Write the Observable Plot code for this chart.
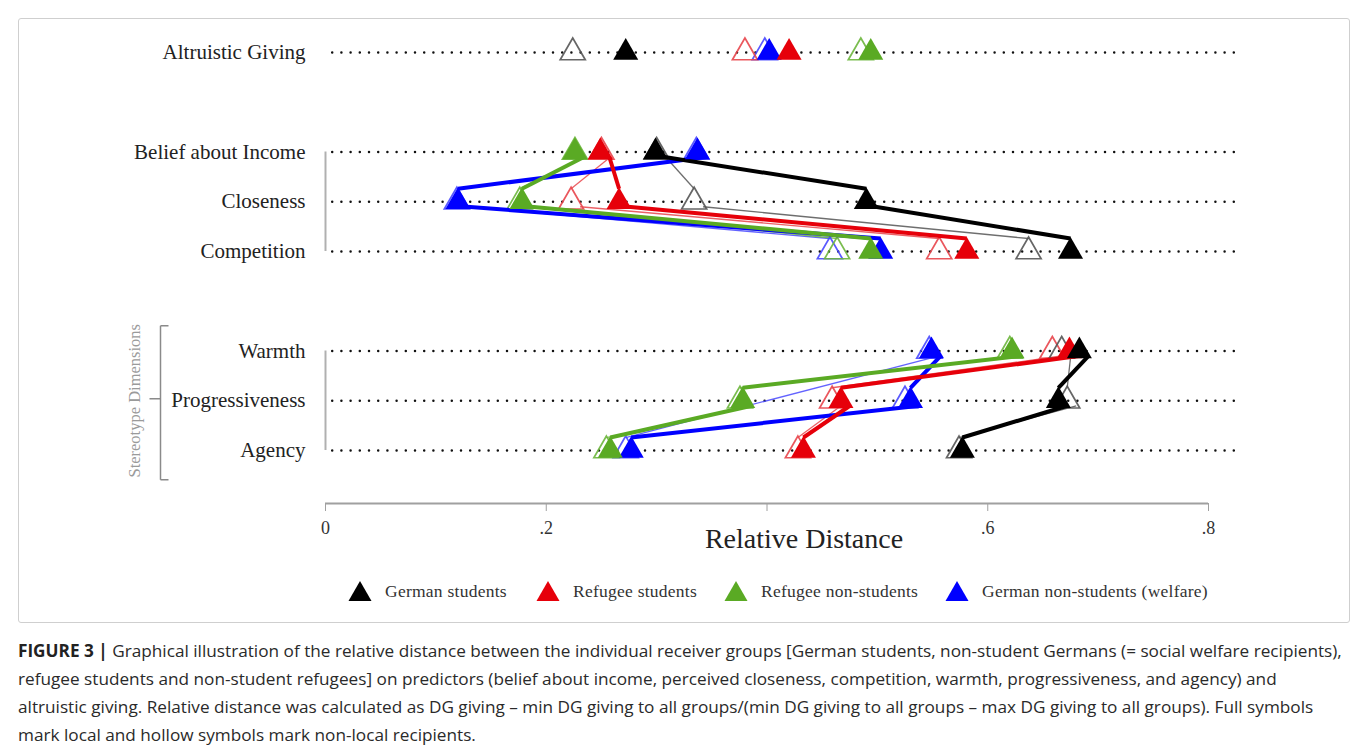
<!DOCTYPE html>
<html>
<head>
<meta charset="utf-8">
<script src="https://cdn.jsdelivr.net/npm/d3@7"></script>
<script src="https://cdn.jsdelivr.net/npm/@observablehq/plot@0.6"></script>
<style>
  body { margin: 0; background: #fff; width: 1358px; height: 750px; overflow: hidden; position: relative; }
  #box { position: absolute; left: 18px; top: 18px; width: 1330px; height: 603px; border: 1px solid #cfcfcf; border-radius: 3px; }
  #chart { position: absolute; left: 0; top: 0; }
  #legend { position: absolute; left: 0; top: 559px; width: 1330px; height: 26px; font-family: "Liberation Serif", serif; font-size: 17.5px; letter-spacing: 0.25px; color: #333; white-space: nowrap; }
  #legend .item { position: absolute; top: 0; height: 26px; display: flex; align-items: center; }
  #legend svg { margin-right: 13px; }
  #caption { position: absolute; left: 18px; top: 637px; width: 1340px; font-family: "Open Sans", "Liberation Sans", sans-serif; font-size: 17.2px; line-height: 28px; color: #2a2a2a; white-space: nowrap; }
  #caption b { color: #222; }
</style>
</head>
<body>
<div id="box">
  <div id="chart"></div>
  <div id="legend"></div>
</div>
<div id="caption"><b>FIGURE 3 |</b> Graphical illustration of the relative distance between the individual receiver groups [German students, non-student Germans (= social welfare recipients),<br>refugee students and non-student refugees] on predictors (belief about income, perceived closeness, competition, warmth, progressiveness, and agency) and<br>altruistic giving. Relative distance was calculated as DG giving – min DG giving to all groups/(min DG giving to all groups – max DG giving to all groups). Full symbols<br>mark local and hollow symbols mark non-local recipients.</div>
<script>
// ---------- data ----------
const groups = ["German students", "Refugee students", "Refugee non-students", "German non-students (welfare)"];
const solidColors = ["#000000", "#e6000a", "#5aaa24", "#0000ff"];
const hollowColors = ["#555555", "#e8454b", "#6cb63c", "#4848ff"];
const drawOrder = [3, 2, 1, 0];

const rows = ["Altruistic Giving", "Belief about Income", "Closeness", "Competition", "Warmth", "Progressiveness", "Agency"];
const rowPos = [0, 2, 3, 4, 6, 7, 8];
const blocks = [["Belief about Income", "Closeness", "Competition"], ["Warmth", "Progressiveness", "Agency"]];

// local recipients (full symbols), one value per row
const localGermanStudents      = [0.272, 0.299, 0.490, 0.675, 0.683, 0.664, 0.577];
const localRefugeeStudents     = [0.420, 0.249, 0.266, 0.581, 0.674, 0.467, 0.433];
const localRefugeeNonStudents  = [0.494, 0.226, 0.178, 0.494, 0.622, 0.378, 0.258];
const localGermanNonStudents   = [0.402, 0.337, 0.120, 0.503, 0.549, 0.530, 0.277];
// non-local recipients (hollow symbols)
const hollowGermanStudents     = [0.224, 0.300, 0.334, 0.637, 0.667, 0.672, 0.574];
const hollowRefugeeStudents    = [0.380, 0.250, 0.2225, 0.556, 0.6585, 0.459, 0.428];
const hollowRefugeeNonStudents = [0.485, 0.226, 0.176, 0.4635, 0.620, 0.3755, 0.2545];
const hollowGermanNonStudents  = [0.398, 0.336, 0.119, 0.457, 0.547, 0.525, 0.272];
// connector skipped for this hollow series row
const hollowLineSkip = [["German non-students (welfare)", "Progressiveness"]];

const xTicks = [0, 0.2, 0.4, 0.6, 0.8];
const xTickLabels = ["0", ".2", "", ".6", ".8"];
const axisTitle = "Relative Distance";
const groupTitle = "Stereotype Dimensions";

// ---------- layout settings ----------
const W = 1330, H = 560;
const mL = 306, mR = 141, mT = 33, mB = 76;
const xMax = 0.8, gridEnd = 0.826, axisRow = 9.065;
const pxPerUnit = (W - mL - mR) / xMax;
const pxPerRow = (H - mT - mB) / axisRow;
const px = v => v / pxPerUnit, pr = v => v / pxPerRow;

const localArrs = [localGermanStudents, localRefugeeStudents, localRefugeeNonStudents, localGermanNonStudents];
const hollowArrs = [hollowGermanStudents, hollowRefugeeStudents, hollowRefugeeNonStudents, hollowGermanNonStudents];

const rowTable = rows.map((r, i) => ({row: r, pos: rowPos[i]}));
const posOf = r => rowPos[rows.indexOf(r)];

const points = [];
for (const gi of drawOrder) {
  rows.forEach((r, ri) => {
    points.push({group: groups[gi], row: r, pos: rowPos[ri], type: "local", value: localArrs[gi][ri], color: solidColors[gi]});
    points.push({group: groups[gi], row: r, pos: rowPos[ri], type: "hollow", value: hollowArrs[gi][ri], color: hollowColors[gi]});
  });
}
const valueOf = (gi, type, r) => (type === "local" ? localArrs : hollowArrs)[gi][rows.indexOf(r)];

const links = [];
for (const block of blocks) {
  for (const gi of drawOrder) {
    for (const type of ["hollow", "local"]) {
      const rs = block.filter(r => !(type === "hollow" && hollowLineSkip.some(s => s[0] === groups[gi] && s[1] === r)));
      for (let k = 0; k < rs.length - 1; k++) {
        links.push({
          type, group: groups[gi],
          color: type === "local" ? solidColors[gi] : hollowColors[gi],
          x1: valueOf(gi, type, rs[k]) + px(9), y1: posOf(rs[k]) + pr(5),
          x2: valueOf(gi, type, rs[k + 1]), y2: posOf(rs[k + 1]) - pr(13)
        });
      }
    }
  }
}

const blockRules = blocks.map(b => ({y1: posOf(b[0]), y2: posOf(b[b.length - 1])}));
const pMid = posOf("Progressiveness");
const bx = px(-165);
const bracket = [
  {x1: bx, x2: bx, y1: pMid - pr(75), y2: pMid + pr(79)},
  {x1: bx, x2: bx + px(8), y1: pMid - pr(75), y2: pMid - pr(75)},
  {x1: bx, x2: bx + px(8), y1: pMid + pr(79), y2: pMid + pr(79)},
  {x1: bx - px(11), x2: bx, y1: pMid - pr(2), y2: pMid - pr(2)}
];

const chart = Plot.plot({
  width: W, height: H,
  marginLeft: mL, marginRight: mR, marginTop: mT, marginBottom: mB,
  style: {fontFamily: "'Liberation Serif', serif", background: "transparent", overflow: "visible"},
  x: {domain: [0, xMax], axis: null},
  y: {domain: [0, axisRow], range: [mT, H - mB], axis: null},
  color: {type: "identity"},
  marks: [
    Plot.ruleY(rowTable, {y: "pos", x1: 0, x2: gridEnd, stroke: "#111", strokeWidth: 2.5, strokeLinecap: "round", strokeDasharray: "0,9.2", strokeDashoffset: 2}),
    Plot.ruleX(blockRules, {x: 0, y1: "y1", y2: "y2", stroke: "#b0b0b0", strokeWidth: 2}),
    Plot.text(rowTable, {x: 0, y: "pos", text: "row", textAnchor: "end", dx: -20, fontSize: 21, fill: "#222", style: "letter-spacing:1.2px"}),
    Plot.link(bracket, {x1: "x1", x2: "x2", y1: "y1", y2: "y2", stroke: "#8a8a8a", strokeWidth: 1.5}),
    Plot.text([groupTitle], {x: 0, y: pMid, dx: -191, rotate: -90, fontSize: 16.5, fill: "#9a9a9a"}),
    Plot.link(links.filter(d => d.type === "hollow"), {x1: "x1", y1: "y1", x2: "x2", y2: "y2", stroke: "color", strokeWidth: 1.3, strokeOpacity: 0.85}),
    Plot.dot(points.filter(d => d.type === "hollow"), {x: "value", y: "pos", symbol: "triangle", r: 9.3, fill: "none", stroke: "color", strokeWidth: 1.7, strokeOpacity: 0.9}),
    Plot.link(links.filter(d => d.type === "local"), {x1: "x1", y1: "y1", x2: "x2", y2: "y2", stroke: "color", strokeWidth: 4}),
    Plot.dot(points.filter(d => d.type === "local"), {x: "value", y: "pos", symbol: "triangle", r: 9.3, fill: "color", stroke: "none"}),
    Plot.ruleY([axisRow], {x1: 0, x2: xMax, stroke: "#a0a0a0", strokeWidth: 2}),
    Plot.axisX({ticks: xTicks, tickFormat: (d) => xTickLabels[xTicks.indexOf(d)], tickSize: 8, tickPadding: 10, fontSize: 18, stroke: "#a0a0a0", fill: "#333"}),
    Plot.text([axisTitle], {frameAnchor: "bottom", dx: 37, dy: 44, fontSize: 28, fill: "#222", style: "letter-spacing:0.3px"})
  ]
});
document.getElementById("chart").appendChild(chart);

// ---------- legend ----------
const legendLeft = [329, 517, 705, 926];
const legend = document.getElementById("legend");
groups.forEach((g, i) => {
  const item = document.createElement("div");
  item.className = "item";
  item.style.left = legendLeft[i] + "px";
  item.innerHTML = `<svg width="24" height="22" viewBox="0 0 24 22"><polygon points="12,1 23.5,21 0.5,21" fill="${solidColors[i]}"/></svg><span>${g}</span>`;
  legend.appendChild(item);
});
</script>
</body>
</html>
